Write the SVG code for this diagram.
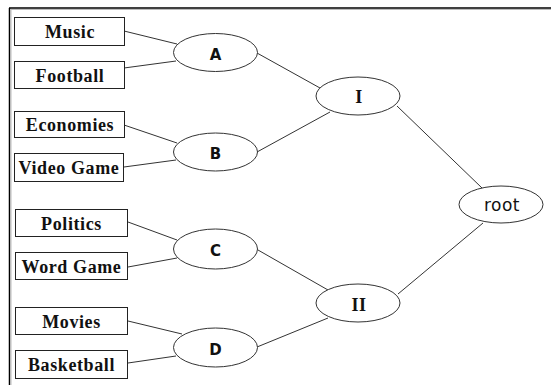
<svg xmlns="http://www.w3.org/2000/svg" width="551" height="385" viewBox="0 0 551 385">
<style>
.box{fill:#fff;stroke:#222;stroke-width:1}
.ell{fill:#fff;stroke:#333;stroke-width:1}
.lbl{font-family:"Liberation Serif",serif;font-weight:bold;font-size:18px;letter-spacing:0.6px;fill:#111;text-anchor:middle}
.sl{font-family:"DejaVu Sans",sans-serif;font-weight:bold;font-size:15px;fill:#111;text-anchor:middle}
.rl{font-family:"DejaVu Sans",sans-serif;font-size:17px;letter-spacing:0.5px;fill:#111;text-anchor:middle}
.cn{stroke:#333;stroke-width:1;fill:none}
</style>
<rect x="0" y="0" width="551" height="385" fill="#fff"/>
<line x1="9" y1="8" x2="551" y2="8" stroke="#000" stroke-width="1.5"/>
<line x1="11" y1="9.5" x2="551" y2="9.5" stroke="#bbb" stroke-width="1"/>
<line x1="9.5" y1="8" x2="9.5" y2="385" stroke="#000" stroke-width="1.5"/>
<line x1="11" y1="10" x2="11" y2="385" stroke="#bbb" stroke-width="1"/>
<g id="connectors">
<line class="cn" x1="124" y1="31" x2="177" y2="44"/>
<line class="cn" x1="124" y1="68" x2="176" y2="61"/>
<line class="cn" x1="124" y1="125" x2="177" y2="143"/>
<line class="cn" x1="124" y1="167" x2="176" y2="160"/>
<line class="cn" x1="128" y1="222" x2="177" y2="240"/>
<line class="cn" x1="128" y1="267" x2="177" y2="258"/>
<line class="cn" x1="128" y1="321" x2="182" y2="334"/>
<line class="cn" x1="128" y1="363" x2="176" y2="356"/>
<line class="cn" x1="257" y1="53" x2="320" y2="88"/>
<line class="cn" x1="257" y1="152" x2="330" y2="112"/>
<line class="cn" x1="258" y1="250" x2="328" y2="290"/>
<line class="cn" x1="257" y1="347" x2="328" y2="318"/>
<line class="cn" x1="397" y1="106" x2="482" y2="188"/>
<line class="cn" x1="483" y1="223" x2="398" y2="294"/>
</g>
<g id="music"><rect class="box" x="14.5" y="17.5" width="110" height="28"/><text class="lbl" x="70" y="38">Music</text></g>
<g id="football"><rect class="box" x="14.5" y="61.5" width="110" height="27"/><text class="lbl" x="70" y="81.5">Football</text></g>
<g id="economies"><rect class="box" x="14.5" y="111.5" width="110" height="26"/><text class="lbl" x="70" y="131">Economies</text></g>
<g id="videogame"><rect class="box" x="14.5" y="153.5" width="109" height="28"/><text class="lbl" x="69" y="174">Video Game</text></g>
<g id="politics"><rect class="box" x="15.5" y="209.5" width="112" height="27"/><text class="lbl" x="71.5" y="229.5">Politics</text></g>
<g id="wordgame"><rect class="box" x="15.5" y="252.5" width="112" height="27"/><text class="lbl" x="71.5" y="272.5">Word Game</text></g>
<g id="movies"><rect class="box" x="15.5" y="307.5" width="112" height="27"/><text class="lbl" x="71.5" y="327.5">Movies</text></g>
<g id="basketball"><rect class="box" x="15.5" y="350.5" width="112" height="28"/><text class="lbl" x="71.5" y="371">Basketball</text></g>
<g id="A"><ellipse class="ell" cx="215.5" cy="52.5" rx="42" ry="19"/><text class="sl" x="215.5" y="59.5">A</text></g>
<g id="B"><ellipse class="ell" cx="215.5" cy="152" rx="42" ry="19"/><text class="sl" x="215.5" y="159">B</text></g>
<g id="C"><ellipse class="ell" cx="215.5" cy="249" rx="42" ry="20"/><text class="sl" x="215.5" y="256">C</text></g>
<g id="D"><ellipse class="ell" cx="215.5" cy="347.5" rx="42" ry="19.5"/><text class="sl" x="215.5" y="354.5">D</text></g>
<g id="I"><ellipse class="ell" cx="358" cy="96" rx="42" ry="19"/><text class="lbl" x="359" y="103">I</text></g>
<g id="II"><ellipse class="ell" cx="358" cy="303" rx="42" ry="19"/><text class="lbl" x="359" y="310.5">II</text></g>
<g id="root"><ellipse class="ell" cx="501" cy="204.5" rx="42" ry="18.5"/><text class="rl" x="502" y="211">root</text></g>
</svg>
